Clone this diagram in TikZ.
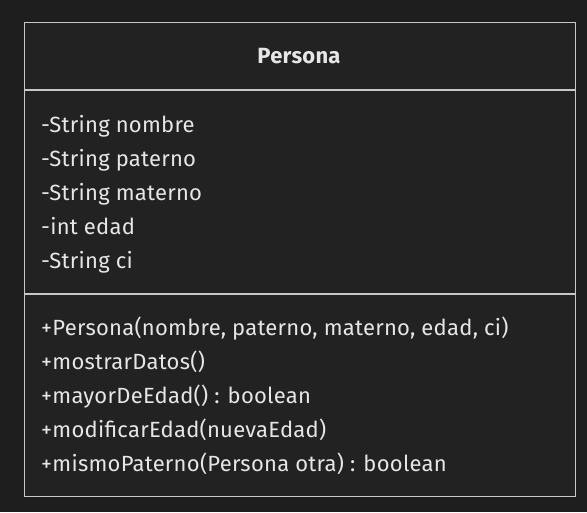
\documentclass[tikz,border=0pt]{standalone}
\usepackage{fontspec}
\setmainfont[LetterSpace=1.2]{Fira Sans}
\definecolor{bgc}{HTML}{1E1E1E}
\definecolor{boxc}{HTML}{222222}
\definecolor{linec}{HTML}{C8C8C8}
\definecolor{txtc}{HTML}{E6E6E6}
\tikzset{
  member/.style={anchor=base west, text=txtc, inner sep=0pt, font=\fontsize{22}{24}\selectfont},
  title/.style={anchor=base, text=txtc, inner sep=0pt, font=\fontsize{22}{24}\selectfont\bfseries},
  umlline/.style={draw=linec, line width=1.3pt}
}
\begin{document}
\begin{tikzpicture}[x=1pt,y=-1pt]
\fill[bgc] (0,0) rectangle (587,512);
\useasboundingbox (0,0) rectangle (587,512);
\node[umlline, fill=boxc, minimum width=551pt, minimum height=474pt, anchor=north west, inner sep=0pt] (box) at (23.5,22) {};
\coordinate (s1l) at (23.5,90); \coordinate (s1r) at (574.5,90);
\coordinate (s2l) at (23.5,294); \coordinate (s2r) at (574.5,294);
\draw[umlline] (s1l) -- (s1r);
\draw[umlline] (s2l) -- (s2r);
\node[title] (name) at (299,63) {Persona};
\node[member] (a1) at (41,132) {-String nombre};
\node[member] (a2) at (41,166) {-String paterno};
\node[member] (a3) at (41,200) {-String materno};
\node[member] (a4) at (41,234) {-int edad};
\node[member] (a5) at (41,268) {-String ci};
\node[member] (m1) at (41,335) {+Persona(nombre, paterno, materno, edad, ci)};
\node[member] (m2) at (41,369) {+mostrarDatos()};
\node[member] (m3) at (41,403) {+mayorDeEdad() : boolean};
\node[member] (m4) at (41,437) {+modificarEdad(nuevaEdad)};
\node[member] (m5) at (41,471) {+mismoPaterno(Persona otra) : boolean};
\end{tikzpicture}
\end{document}
